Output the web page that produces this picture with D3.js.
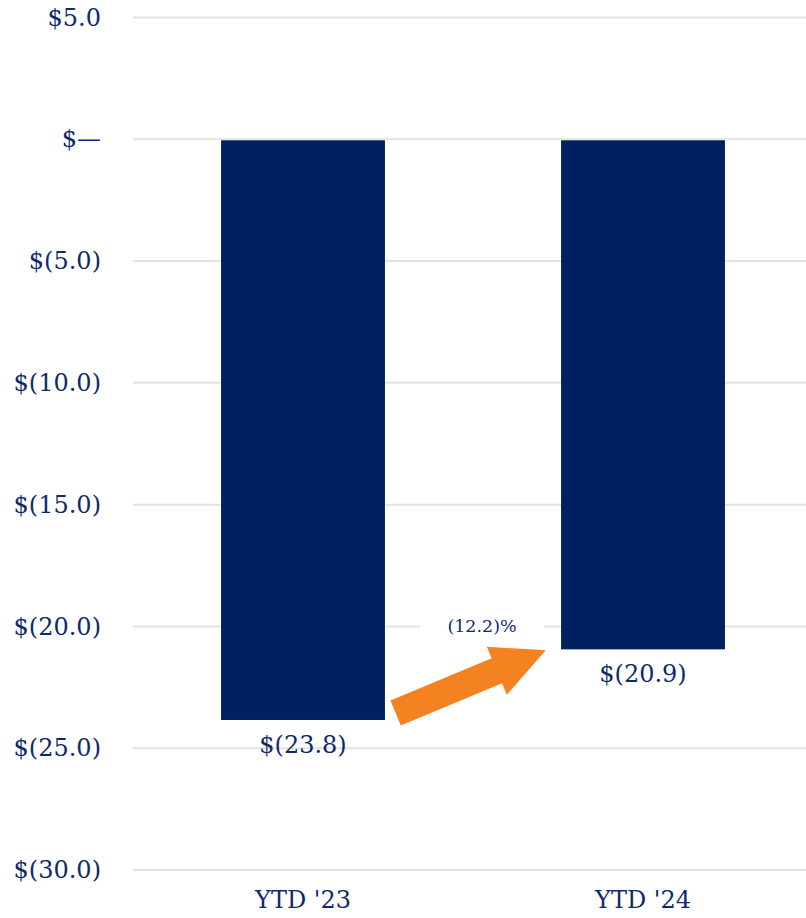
<!DOCTYPE html>
<html><head><meta charset="utf-8">
<script src="https://cdn.jsdelivr.net/npm/d3@7"></script>
<style>body{margin:0;background:#fff;} text{font-family:"DejaVu Serif",Georgia,serif;}</style>
</head><body><svg id="c" width="806" height="918"></svg>
<script>
const categories = ["YTD '23", "YTD '24"];
const values = [-23.8, -20.9];
const yTicks = [5, 0, -5, -10, -15, -20, -25, -30];
const changeLabel = "(12.2)%";

const W = 806, H = 918;
const navy = "#002060", orange = "#F58220", textCol = "#0f2a6b";
const svg = d3.select("#c");

const y = d3.scaleLinear().domain([5, -30]).range([17.5, 870]);
const x = d3.scaleBand().domain(categories).range([133, 813]).paddingInner(0.518).paddingOuter(0.259);

const fmt = v => v === 0 ? "$\u2014" : (v < 0 ? "$(" + d3.format(".1f")(-v) + ")" : "$" + d3.format(".1f")(v));

// gridlines
svg.append("g").selectAll("line").data(yTicks).join("line")
  .attr("x1", 133).attr("x2", W)
  .attr("y1", d => y(d)).attr("y2", d => y(d))
  .attr("stroke", "#e3e3e3").attr("stroke-width", 2);

// y axis labels
const yAxis = d3.axisLeft(y).tickValues(yTicks).tickFormat(fmt).tickSize(0).tickPadding(0);
const ga = svg.append("g").attr("transform", "translate(101,0)").call(yAxis);
ga.select(".domain").remove();
ga.selectAll("text").attr("fill", textCol).style("font-size", "24px").style("font-family", "DejaVu Serif");

// bars
svg.append("g").selectAll("rect").data(values).join("rect")
  .attr("x", (d, i) => x(categories[i]))
  .attr("width", x.bandwidth())
  .attr("y", d => y(Math.max(0, d)) + 1)
  .attr("height", d => Math.abs(y(d) - y(0)))
  .attr("fill", navy);

// value labels
svg.append("g").selectAll("text").data(values).join("text")
  .attr("x", (d, i) => x(categories[i]) + x.bandwidth() / 2)
  .attr("y", d => y(d) + 26)
  .attr("text-anchor", "middle").attr("dominant-baseline", "central")
  .attr("fill", textCol).style("font-size", "24px")
  .text(fmt);

// category labels
svg.append("g").selectAll("text").data(categories).join("text")
  .attr("x", d => x(d) + x.bandwidth() / 2)
  .attr("y", 900)
  .attr("text-anchor", "middle").attr("dominant-baseline", "central")
  .attr("fill", textCol).style("font-size", "24px")
  .text(d => d);

// arrow
const x0 = x(categories[0]) + x.bandwidth() + 10.7, y0 = y(values[0]) - 6;
const x1 = x(categories[1]) - 15.3, y1 = y(values[1]) + 2;
const dx = x1 - x0, dy = y1 - y0, L = Math.hypot(dx, dy);
const ux = dx / L, uy = dy / L, nx = -uy, ny = ux;
const sw = 13.5, hw = 26, hl = 53;
const bx = x1 - ux * hl, by = y1 - uy * hl;
const pts = [
  [x0 + nx * sw, y0 + ny * sw], [bx + nx * sw, by + ny * sw], [bx + nx * hw, by + ny * hw],
  [x1, y1],
  [bx - nx * hw, by - ny * hw], [bx - nx * sw, by - ny * sw], [x0 - nx * sw, y0 - ny * sw]
];
svg.append("path").attr("d", d3.line()(pts) + "Z").attr("fill", orange);

// change label with white background
const lx = (x(categories[0]) + x.bandwidth() + x(categories[1])) / 2 + 9;
const ly = y(-20);
svg.append("rect").attr("x", lx - 62).attr("y", ly - 12).attr("width", 124).attr("height", 24).attr("fill", "#fff");
svg.append("text").attr("x", lx).attr("y", ly)
  .attr("text-anchor", "middle").attr("dominant-baseline", "central")
  .attr("fill", textCol).style("font-size", "17.5px").text(changeLabel);
</script></body></html>
